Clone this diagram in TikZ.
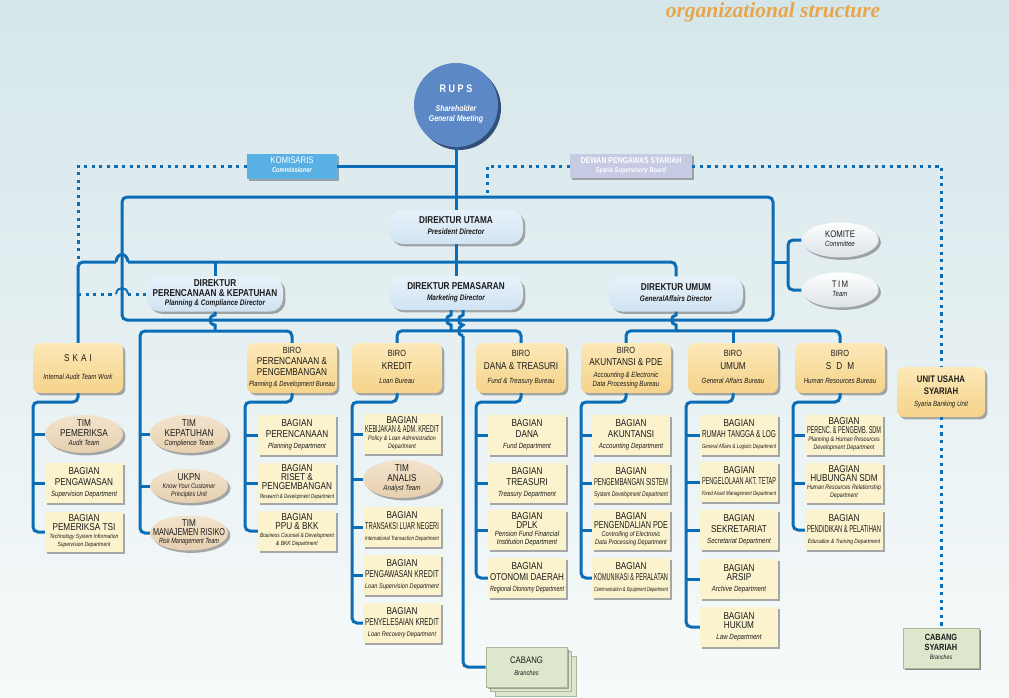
\documentclass[tikz,border=0pt]{standalone}
\usepackage{fontspec}
\setmainfont{Liberation Sans}[FakeStretch=0.82]
\newfontfamily\titlefont{Liberation Serif}
\usepackage{graphicx}
\usetikzlibrary{shapes.geometric,shadows,calc}

\definecolor{lineblue}{HTML}{0B6DB6}
\definecolor{birolo}{HTML}{F5D38A}
\definecolor{birohi}{HTML}{FCE8B8}
\definecolor{bagfill}{HTML}{FBF3CD}
\definecolor{timhi}{HTML}{F3E3CC}
\definecolor{timlo}{HTML}{E6CFAF}
\definecolor{dirhi}{HTML}{E8F2FA}
\definecolor{dirlo}{HTML}{D0E3F3}
\definecolor{komfill}{HTML}{58B0E3}
\definecolor{dewanfill}{HTML}{C6CAE3}
\definecolor{cabfill}{HTML}{DCE7CB}
\definecolor{cabedge}{HTML}{A9B896}
\definecolor{rupsfill}{HTML}{5C88C6}
\definecolor{rupsshade}{HTML}{203F70}
\definecolor{titleor}{HTML}{E8A64B}
\definecolor{bgtop}{HTML}{D5E6EA}
\definecolor{bgbot}{HTML}{F7FAFA}
\definecolor{ink}{HTML}{1C1C1C}
\definecolor{ovallo}{HTML}{DCE2E6}

% squeeze a line horizontally when it is wider than the box allows
\newsavebox\fitbox
\newcommand\fitw[2]{\sbox\fitbox{#2}\ifdim\wd\fitbox>#1\relax\resizebox{#1}{\height}{\usebox\fitbox}\else\usebox\fitbox\fi}
\newcommand\hdl[2][74pt]{\fitw{#1}{\fontsize{10}{11}\selectfont #2}}
\newcommand\brl[2][84pt]{\fitw{#1}{\fontsize{9}{11}\selectfont #2}}
\newcommand\itl[2][74pt]{\fitw{#1}{\fontsize{7.5}{9}\selectfont\itshape #2}}
\newcommand\tnl[2][74pt]{\fitw{#1}{\fontsize{6}{7}\selectfont\itshape #2}}
\newcommand\dhd[2][128pt]{\fitw{#1}{\fontsize{10}{11}\selectfont\bfseries #2}}
\newcommand\dit[2][128pt]{\fitw{#1}{\fontsize{8}{9}\selectfont\bfseries\itshape #2}}
% centred stack of lines that does not enlarge its node
\newcommand\cbox[1]{\vbox to 0pt{\vss\hbox to 0pt{\hss\begin{tabular}{@{}c@{}}#1\end{tabular}\hss}\vss}}

\tikzset{
  conn/.style={draw=lineblue, line width=3pt, rounded corners=5pt},
  hopline/.style={draw=lineblue, line width=3pt},
  dots/.style={draw=lineblue, line width=3pt, dash pattern=on 3.2pt off 4.4pt},
  shad/.style={drop shadow={shadow xshift=2.4pt, shadow yshift=-2.4pt, fill=black!60, opacity=.55}},
  basebox/.style={shad, inner sep=0pt, text=ink, font=\fontsize{10}{11}\selectfont},
  birobox/.style={basebox, rounded corners=7pt, top color=birohi, bottom color=birolo, minimum width=90pt, minimum height=50pt},
  bagbox/.style={basebox, fill=bagfill, minimum width=78pt, minimum height=40pt},
  timell/.style={basebox, ellipse, top color=timhi, bottom color=timlo, minimum width=78pt, minimum height=38pt},
  dirbox/.style={basebox, rounded corners=13pt, top color=dirhi, bottom color=dirlo, minimum width=134pt, minimum height=34pt},
  ovalbox/.style={basebox, ellipse, top color=white, bottom color=ovallo, minimum width=77pt, minimum height=35pt},
  cabbox/.style={basebox, fill=cabfill, draw=cabedge, line width=0.6pt},
}

\begin{document}
\begin{tikzpicture}[x=1pt,y=-1pt]
\useasboundingbox (0,0) rectangle (1009,698);
\shade[top color=bgtop, bottom color=bgbot] (0,0) rectangle (1009,698);

\node[font=\titlefont\bfseries\itshape\fontsize{21.5}{24}\selectfont, text=titleor, inner sep=0pt] (title) at (773,12) {organizational structure};

% ---------- board level ----------
\node[circle, fill=rupsfill, minimum size=84pt, inner sep=0pt, text=white,
      drop shadow={shadow xshift=3pt, shadow yshift=-3pt, fill=rupsshade, opacity=.9}]
  (rups) at (456,105) {\cbox{{\fontsize{11}{12}\selectfont\bfseries R\hspace{2.5pt}U\hspace{2.5pt}P\hspace{2.5pt}S}\\[7pt]
     {\fontsize{8.5}{9}\selectfont\bfseries\itshape Shareholder}\\[-2pt]
     {\fontsize{8.5}{9}\selectfont\bfseries\itshape General Meeting}}};

\node[basebox, fill=komfill, minimum width=90pt, minimum height=25pt, text=white] (kom) at (292,166)
  {\cbox{{\fontsize{9.5}{10}\selectfont KOMISARIS}\\[-2.5pt]{\fontsize{7}{8}\selectfont\bfseries\itshape Commissioner}}};
\node[basebox, fill=dewanfill, minimum width=122pt, minimum height=24pt, text=white] (dewan) at (631,166)
  {\cbox{\fitw{116pt}{\fontsize{8.5}{9}\selectfont\bfseries DEWAN PENGAWAS SYARIAH}\\[-2.5pt]{\fontsize{7}{8}\selectfont\bfseries\itshape Syaria Supervisory Board}}};

% ---------- directors ----------
\node[dirbox] (dirut) at (456,227) {\cbox{\dhd{DIREKTUR UTAMA}\\[-0.5pt]\dit{President Director}}};
\node[dirbox] (dirpem) at (456,293) {\cbox{\dhd{DIREKTUR PEMASARAN}\\[-0.5pt]\dit{Marketing Director}}};
\node[dirbox, minimum width=136pt, minimum height=35pt] (dirplan) at (215,294)
  {\cbox{\dhd{DIREKTUR}\\[-1.2pt]\dhd{PERENCANAAN \& KEPATUHAN}\\[-2pt]\dit{Planning \& Compliance Director}}};
\node[dirbox, minimum height=35pt] (dirum) at (676,294) {\cbox{\dhd{DIREKTUR UMUM}\\[-0.5pt]\dit{GeneralAffairs Director}}};

\node[ovalbox] (komite) at (840,240) {\cbox{{\fontsize{9.5}{10}\selectfont KOMITE}\\[-2pt]{\fontsize{7.5}{8}\selectfont\itshape Committee}}};
\node[ovalbox] (timk) at (840,290) {\cbox{{\fontsize{9.5}{10}\selectfont T\hspace{1.5pt}I\hspace{1.5pt}M}\\[-2pt]{\fontsize{7.5}{8}\selectfont\itshape Team}}};

% ---------- bureaus ----------
\node[birobox] (skai) at (78,368) {\cbox{\hdl[84pt]{S\hspace{3pt}K\hspace{3pt}A\hspace{3pt}I}\\[7pt]\itl[84pt]{Internal Audit Team Work}}};
\node[birobox] (biroplan) at (292,368) {\cbox{\brl{BIRO}\\\hdl[84pt]{PERENCANAAN \&}\\\hdl[84pt]{PENGEMBANGAN}\\\itl[86pt]{Planning \& Development Bureau}}};
\node[birobox] (kredit) at (397,368) {\cbox{\brl{BIRO}\\[2pt]\hdl[84pt]{KREDIT}\\[3pt]\itl[84pt]{Loan Bureau}}};
\node[birobox] (dana) at (521,368) {\cbox{\brl{BIRO}\\[2pt]\hdl[84pt]{DANA \& TREASURI}\\[3pt]\itl[84pt]{Fund \& Treasury Bureau}}};
\node[birobox] (akt) at (626,368) {\cbox{\brl{BIRO}\\[1pt]\hdl[84pt]{AKUNTANSI \& PDE}\\[1pt]\itl[84pt]{Accounting \& Electronic}\\[-2.5pt]\itl[84pt]{Data Processing Bureau}}};
\node[birobox] (umum) at (733,368) {\cbox{\brl{BIRO}\\[2pt]\hdl[84pt]{UMUM}\\[3pt]\itl[84pt]{General Affairs Bureau}}};
\node[birobox] (sdm) at (840,368) {\cbox{\brl{BIRO}\\[2pt]\hdl[84pt]{S\hspace{5pt}D\hspace{5pt}M}\\[3pt]\itl[84pt]{Human Resources Bureau}}};
\node[birobox, minimum width=88pt] (uus) at (941,392) {\cbox{\fitw{82pt}{\fontsize{9.5}{11}\selectfont\bfseries UNIT USAHA}\\[1pt]\fitw{82pt}{\fontsize{9.5}{11}\selectfont\bfseries SYARIAH}\\[1pt]\itl[82pt]{Syaria Banking Unit}}};

% ---------- internal audit ----------
\node[timell] (pemeriksa) at (84,434) {\cbox{\hdl[62pt]{TIM}\\[-1pt]\hdl[62pt]{PEMERIKSA}\\[-2pt]\itl[60pt]{Audit Team}}};
\node[bagbox] (pengawasan) at (84,483) {\cbox{\hdl{BAGIAN}\\\hdl{PENGAWASAN}\\\itl{Supervision Department}}};
\node[bagbox] (tsi) at (84,532) {\cbox{\hdl{BAGIAN}\\[-2pt]\hdl{PEMERIKSA TSI}\\[-2.5pt]\tnl{Technology System Information}\\[-3pt]\tnl{Supervision Department}}};

% ---------- compliance teams ----------
\node[timell] (tkep) at (189,434) {\cbox{\hdl[62pt]{TIM}\\[-1pt]\hdl[62pt]{KEPATUHAN}\\[-2pt]\itl[60pt]{Complience Team}}};
\node[timell, minimum height=34pt] (ukpn) at (189,486) {\cbox{\hdl[62pt]{UKPN}\\[-3pt]\tnl[60pt]{\fontsize{6.8}{7}\selectfont Know Your Customer}\\[-3pt]\tnl[60pt]{\fontsize{6.8}{7}\selectfont Principles Unit}}};
\node[timell, minimum height=35pt] (tmr) at (189,533) {\cbox{\hdl[62pt]{TIM}\\[-2pt]\hdl[72pt]{MANAJEMEN RISIKO}\\[-2.5pt]\itl[60pt]{Risk Management Team}}};

% ---------- planning & development ----------
\node[bagbox] (bperenc) at (297,435) {\cbox{\hdl{BAGIAN}\\\hdl{PERENCANAAN}\\\itl{Planning Department}}};
\node[bagbox] (briset) at (297,483) {\cbox{\hdl{BAGIAN}\\[-2pt]\hdl{RISET \&}\\[-2pt]\hdl{PENGEMBANGAN}\\[-2pt]\tnl{Research \& Development Department}}};
\node[bagbox] (bppu) at (297,531) {\cbox{\hdl{BAGIAN}\\[-2pt]\hdl{PPU \& BKK}\\[-2.5pt]\tnl{Business Counsel \& Development}\\[-3pt]\tnl{\& BKK Department}}};

% ---------- loans ----------
\node[bagbox] (bkeb) at (402,434) {\cbox{\hdl{BAGIAN}\\[-2pt]\hdl{KEBIJAKAN \& ADM. KREDIT}\\[-2.5pt]\tnl{\fontsize{6.5}{7}\selectfont Policy \& Loan Administration}\\[-3pt]\tnl{\fontsize{6.5}{7}\selectfont Department}}};
\node[timell] (tanalis) at (402,479) {\cbox{\hdl[62pt]{TIM}\\[-1pt]\hdl[62pt]{ANALIS}\\[-2pt]\itl[60pt]{Analyst Team}}};
\node[bagbox] (btln) at (402,527) {\cbox{\hdl{BAGIAN}\\\hdl{TRANSAKSI LUAR NEGERI}\\\tnl{International Transaction Department}}};
\node[bagbox] (bpkr) at (402,575) {\cbox{\hdl{BAGIAN}\\\hdl{PENGAWASAN KREDIT}\\\tnl{\fontsize{6.8}{7}\selectfont Loan Supervision Department}}};
\node[bagbox] (bpny) at (402,623) {\cbox{\hdl{BAGIAN}\\\hdl{PENYELESAIAN KREDIT}\\\tnl{\fontsize{6.8}{7}\selectfont Loan Recovery Department}}};

% ---------- funds & treasury ----------
\node[bagbox] (bdana) at (527,435) {\cbox{\hdl{BAGIAN}\\\hdl{DANA}\\\itl{Fund Department}}};
\node[bagbox] (btreas) at (527,483) {\cbox{\hdl{BAGIAN}\\\hdl{TREASURI}\\\itl{Treasury Department}}};
\node[bagbox] (bdplk) at (527,530) {\cbox{\hdl{BAGIAN}\\[-2pt]\hdl{DPLK}\\[-2.5pt]\itl{Pension Fund Financial}\\[-3pt]\itl{Institution Department}}};
\node[bagbox] (boto) at (527,578) {\cbox{\hdl{BAGIAN}\\\hdl{OTONOMI DAERAH}\\\itl{Regional Otonomy Department}}};

% ---------- accounting & EDP ----------
\node[bagbox] (bakt) at (631,435) {\cbox{\hdl{BAGIAN}\\\hdl{AKUNTANSI}\\\itl{Accounting Department}}};
\node[bagbox] (bpsis) at (631,483) {\cbox{\hdl{BAGIAN}\\\hdl{PENGEMBANGAN SISTEM}\\\tnl{\fontsize{6.8}{7}\selectfont System Development Department}}};
\node[bagbox] (bppde) at (631,530) {\cbox{\hdl{BAGIAN}\\[-2pt]\hdl{PENGENDALIAN PDE}\\[-2.5pt]\tnl{\fontsize{6.8}{7}\selectfont Controlling of Electronic}\\[-3pt]\tnl{\fontsize{6.8}{7}\selectfont Data Processing Department}}};
\node[bagbox] (bkom) at (631,578) {\cbox{\hdl{BAGIAN}\\\hdl{KOMUNIKASI \& PERALATAN}\\\tnl{Communication \& Equipment Department}}};

% ---------- general affairs ----------
\node[bagbox] (brt) at (739,435) {\cbox{\hdl{BAGIAN}\\\hdl{RUMAH TANGGA \& LOG}\\\tnl{General Affairs \& Logistic Department}}};
\node[bagbox] (baset) at (739,482) {\cbox{\hdl{BAGIAN}\\\hdl{PENGELOLAAN AKT. TETAP}\\\tnl{Fixed Asset Management Department}}};
\node[bagbox] (bsek) at (739,530) {\cbox{\hdl{BAGIAN}\\\hdl{SEKRETARIAT}\\\itl{Secretariat Department}}};
\node[bagbox] (barsip) at (739,579) {\cbox{\hdl{BAGIAN}\\[-2pt]\hdl{ARSIP}\\\itl{Archive Department}}};
\node[bagbox] (bhukum) at (739,627) {\cbox{\hdl{BAGIAN}\\[-2pt]\hdl{HUKUM}\\\itl{Law Department}}};

% ---------- human resources ----------
\node[bagbox] (bpsdm) at (844,435) {\cbox{\hdl{BAGIAN}\\[-2pt]\hdl{PERENC. \& PENGEMB. SDM}\\[-2.5pt]\tnl{\fontsize{6.5}{7}\selectfont Planning \& Human Resources}\\[-3pt]\tnl{\fontsize{6.5}{7}\selectfont Development Department}}};
\node[bagbox] (bhsdm) at (844,483) {\cbox{\hdl{BAGIAN}\\[-2pt]\hdl{HUBUNGAN SDM}\\[-2.5pt]\tnl{\fontsize{6.5}{7}\selectfont Human Resources Relationship}\\[-3pt]\tnl{\fontsize{6.5}{7}\selectfont Department}}};
\node[bagbox] (bpend) at (844,530) {\cbox{\hdl{BAGIAN}\\\hdl{PENDIDIKAN \& PELATIHAN}\\\tnl{Education \& Training Department}}};

% ---------- branches ----------
\foreach \d in {9,4.5}
  \filldraw[fill=cabfill, draw=cabedge, line width=0.6pt] (486+\d,647+\d) rectangle (567+\d,687+\d);
\node[cabbox, minimum width=81pt, minimum height=40pt] (cabang) at (526.5,667)
  {\cbox{{\fontsize{9.5}{10}\selectfont CABANG}\\[1pt]{\fontsize{7}{8}\selectfont\itshape Branches}}};
\node[cabbox, shad, minimum width=76pt, minimum height=40pt] (cabsy) at (941,648)
  {\cbox{{\fontsize{9}{10}\selectfont\bfseries CABANG}\\[-1pt]{\fontsize{9}{10}\selectfont\bfseries SYARIAH}\\[-2pt]{\fontsize{6.5}{7}\selectfont\itshape Branches}}};

% ================= connectors =================
\coordinate (frameNW) at (122,197);
\coordinate (frameSE) at (773,320);
\coordinate (hopL) at (116,262);
\coordinate (hopR) at (128,262);
\coordinate (brk) at (788,262);
\coordinate (dewanfoot) at (487,195);
\coordinate (kepbus) at (140,331);
\coordinate (skaibus) at (33,402);
\coordinate (planbus) at (245,402);
\coordinate (kredbus) at (352,402);
\coordinate (danabus) at (476,402);
\coordinate (aktbus) at (581,402);
\coordinate (umumbus) at (686,402);
\coordinate (sdmbus) at (793,402);

% board of directors frame
\draw[conn] (frameNW) rectangle (frameSE);
\draw[conn] (rups.south) -- (dirut.north);
\draw[conn] (kom.east) -- (kom.east -| rups.south);
\draw[conn] (dirut.south) -- (dirpem.north);

% supervisory lines
\draw[dots] (kom.west) -| (skai.north |- hopL);
\draw[dots] (dewan.west) -| (dewanfoot);
\draw[dots] (dewan.east) -| (uus.north);
\draw[dots] (uus.south) -- (cabsy.north);
\draw[dots] (dirplan.west -| skai.north) -- (dirplan.west -| hopL);
\draw[lineblue, line width=2pt] (dirplan.west -| hopL) .. controls ($(dirplan.west -| hopL)+(1,-8)$) and ($(dirplan.west -| hopR)+(-1,-8)$) .. (dirplan.west -| hopR);
\draw[dots] (dirplan.west -| hopR) -- (dirplan.west);

% line from the president director to SKAI and the directors
\draw[conn] (dirum.north) |- (hopR);
\draw[hopline] (hopR) .. controls (127,252) and (117,252) .. (hopL);
\draw[conn] (hopL) -| (skai.north);
\draw[conn] (dirplan.north) -- (dirplan.north |- hopR);

% committee and team
\draw[conn] (frameSE |- brk) -- (brk);
\draw[conn] (komite.west) -| (brk) |- (timk.west);

% planning & compliance director
\draw[hopline] (dirplan.south) -- (215,315) .. controls (208,316) and (208,324) .. (215,325) -- (215,331);
\draw[conn] (tmr.west) -| (kepbus) -| (biroplan.north);
\draw[conn] (tkep.west) -- (tkep.west -| kepbus);
\draw[conn] (ukpn.west) -- (ukpn.west -| kepbus);

% marketing director
\draw[hopline] ($(dirpem.south)+(-5,0)$) -- (451,315) .. controls (445,316) and (445,324) .. (451,325) -- (451,331);
\draw[conn] (kredit.north) -- ++(0,-12) -| (dana.north);
\draw[hopline] ($(dirpem.south)+(7,0)$) -- (463,315) .. controls (457,316) and (457,324) .. (463,325)
   .. controls (457,327) and (457,335) .. (463,336);
\draw[conn] (463,336) |- (cabang.west);

% general affairs director
\draw[hopline] (dirum.south) -- (676,315) .. controls (670,316) and (670,324) .. (676,325) -- (676,331);
\draw[conn] (akt.north) -- ++(0,-12) -| (sdm.north);
\draw[conn] (umum.north) -- ++(0,-12);

% departments under each bureau
\draw[conn] (skai.south) |- (skaibus) |- (tsi.west);
\draw[conn] (pemeriksa.west) -- (pemeriksa.west -| skaibus);
\draw[conn] (pengawasan.west) -- (pengawasan.west -| skaibus);

\draw[conn] (biroplan.south) |- (planbus) |- (bppu.west);
\draw[conn] (bperenc.west) -- (bperenc.west -| planbus);
\draw[conn] (briset.west) -- (briset.west -| planbus);

\draw[conn] (kredit.south) |- (kredbus) |- (bpny.west);
\foreach \n in {bkeb,tanalis,btln,bpkr} \draw[conn] (\n.west) -- (\n.west -| kredbus);

\draw[conn] (dana.south) |- (danabus) |- (boto.west);
\foreach \n in {bdana,btreas,bdplk} \draw[conn] (\n.west) -- (\n.west -| danabus);

\draw[conn] (akt.south) |- (aktbus) |- (bkom.west);
\foreach \n in {bakt,bpsis,bppde} \draw[conn] (\n.west) -- (\n.west -| aktbus);

\draw[conn] (umum.south) |- (umumbus) |- (bhukum.west);
\foreach \n in {brt,baset,bsek,barsip} \draw[conn] (\n.west) -- (\n.west -| umumbus);

\draw[conn] (sdm.south) |- (sdmbus) |- (bpend.west);
\foreach \n in {bpsdm,bhsdm} \draw[conn] (\n.west) -- (\n.west -| sdmbus);
\end{tikzpicture}
\end{document}
